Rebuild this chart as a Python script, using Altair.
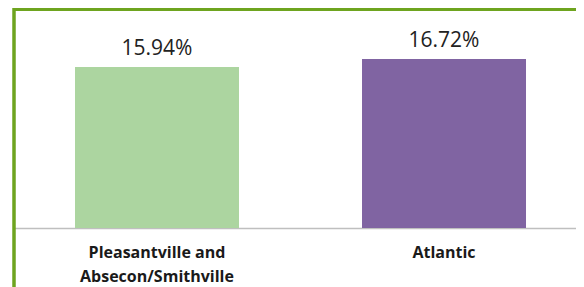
import altair as alt
import pandas as pd

categories = ["Pleasantville and Absecon/Smithville", "Atlantic"]
values = [15.94, 16.72]
colors = ["#acd5a0", "#8064a2"]

df = pd.DataFrame({"category": categories, "value": values, "color": colors})

W, H = 563, 220
border_color = "#6ea41f"

base = alt.Chart(df)

xenc = alt.X(
    "category:N",
    sort=categories,
    title=None,
    scale=alt.Scale(paddingInner=0.4286, paddingOuter=0.1951, align=0.5536),
    axis=alt.Axis(
        labelAngle=0,
        ticks=False,
        labelPadding=16,
        labelFont="Open Sans",
        labelFontWeight="bold",
        labelFontSize=16,
        labelColor="#1a1a1a",
        labelLineHeight=24,
        labelLimit=300,
        domainColor="#bfbfbf",
        domainWidth=1.5,
        labelExpr="split(replace(datum.label, ' and ', ' and|'), '|')",
    ),
)
yenc = alt.Y(
    "value:Q",
    scale=alt.Scale(domain=[0, 21.77], nice=False),
    axis=None,
)

bars = base.mark_bar().encode(
    x=xenc,
    y=yenc,
    color=alt.Color("color:N", scale=None, legend=None),
)

labels = base.transform_calculate(
    lbl="format(datum.value, '.2f') + '%'"
).mark_text(
    font="Open Sans", fontSize=21, color="#222222", dy=-12, baseline="alphabetic"
).encode(
    x=alt.X("category:N", sort=categories),
    y="value:Q",
    text="lbl:N",
)

left_border = base.mark_rule(color=border_color, strokeWidth=3).encode(
    x=alt.value(1), y=alt.value(0), y2=alt.value(279)
)
top_border = base.mark_rule(color=border_color, strokeWidth=3).encode(
    x=alt.value(0), x2=alt.value(W), y=alt.value(1.5)
)

chart = (
    alt.layer(bars, labels, left_border, top_border)
    .properties(
        width=W,
        height=H,
        padding={"left": 5, "top": 0, "right": 0, "bottom": 59},
        autosize=alt.AutoSizeParams(type="none"),
    )
    .configure_view(stroke=None)
)

chart.save("out.html", embed_options={"renderer": "svg", "actions": False})
